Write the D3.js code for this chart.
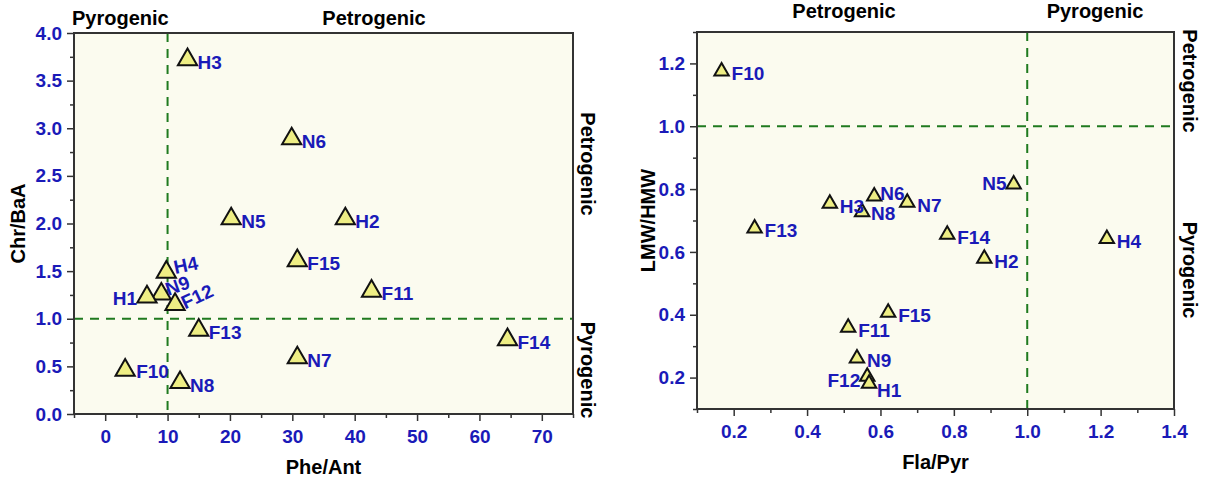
<!DOCTYPE html>
<html>
  <head>
    <meta charset="utf-8" />
    <style>
      body { margin: 0; background: #fff; }
      text { font-family: "Liberation Sans", Arial, sans-serif; font-weight: bold; }
    </style>
  </head>
  <body>

<svg id="chart"></svg>

<script src="https://d3js.org/d3.v7.min.js"></script>
<script>
// dimensions de la page
const WIDTH = 1208
const HEIGHT = 481

// panneau gauche : Phe/Ant vs Chr/BaA
const SAMPLES_A = ['H3', 'N6', 'N5', 'H2', 'F15', 'F11', 'F14', 'N7', 'H4', 'N9', 'H1', 'F12', 'F13', 'F10', 'N8']
const PHE_ANT = [13.2, 29.9, 20.2, 38.5, 30.8, 42.7, 64.5, 30.8, 9.8, 9.0, 6.7, 11.2, 15.0, 3.2, 12.0]
const CHR_BAA = [3.72, 2.89, 2.05, 2.05, 1.61, 1.29, 0.78, 0.59, 1.49, 1.26, 1.23, 1.15, 0.88, 0.46, 0.33]
const TICKS_A_X = [0, 10, 20, 30, 40, 50, 60, 70]
const TICKS_A_Y = [0, 0.5, 1, 1.5, 2, 2.5, 3, 3.5, 4]

// panneau droit : Fla/Pyr vs LMW/HMW
const SAMPLES_B = ['F10', 'F13', 'H3', 'N6', 'N8', 'N7', 'N5', 'F14', 'H4', 'H2', 'F15', 'F11', 'N9', 'F12', 'H1']
const FLA_PYR = [0.167, 0.257, 0.462, 0.583, 0.55, 0.673, 0.963, 0.782, 1.217, 0.883, 0.621, 0.512, 0.536, 0.564, 0.569]
const LMW_HMW = [1.175, 0.675, 0.754, 0.777, 0.727, 0.757, 0.815, 0.655, 0.642, 0.579, 0.407, 0.359, 0.261, 0.203, 0.181]
const TICKS_B_X = [0.2, 0.4, 0.6, 0.8, 1.0, 1.2, 1.4]
const TICKS_B_Y = [0.2, 0.4, 0.6, 0.8, 1.0, 1.2]

// couleurs
const BLUE = '#1a1ab8'
const GREEN = '#1f7a1f'
const FOND = '#fbfbef'
const JAUNE = '#eeee84'

// position des étiquettes (décalage, rotation) quand ce n'est pas celui par défaut
const LABELS_A = {
  H1: { dx: -10, dy: 8, anchor: 'end' },
  H4: { dx: 9, dy: 2, rot: -12 },
  N9: { dx: 7, dy: 2, rot: -20 },
  F12: { dx: 10, dy: 5, rot: -25 },
  F10: { dx: 11, dy: 8 }
}
const LABELS_B = {
  N5: { dx: -7, dy: 6, anchor: 'end' },
  F12: { dx: -7, dy: 10, anchor: 'end' },
  H1: { dx: 8, dy: 13 },
  N6: { dx: 6, dy: 4 },
  N8: { dx: 9, dy: 8 }
}

const svg = d3.select('#chart')
  .attr('width', WIDTH)
  .attr('height', HEIGHT)

function panneau (opt) {
  const { left, right, top, bottom } = opt
  const x = d3.scaleLinear().domain(opt.xDomain).range([left, right])
  const y = d3.scaleLinear().domain(opt.yDomain).range([bottom, top])
  const g = svg.append('g')

  // fond crème
  g.append('rect')
    .attr('x', left).attr('y', top)
    .attr('width', right - left).attr('height', bottom - top)
    .attr('fill', FOND)

  // lignes de seuil en pointillés
  g.append('line')
    .attr('x1', x(opt.xCut)).attr('x2', x(opt.xCut))
    .attr('y1', top).attr('y2', bottom)
    .attr('stroke', GREEN).attr('stroke-width', 2).attr('stroke-dasharray', '9,7')
  g.append('line')
    .attr('x1', left).attr('x2', right)
    .attr('y1', y(opt.yCut)).attr('y2', y(opt.yCut))
    .attr('stroke', GREEN).attr('stroke-width', 2).attr('stroke-dasharray', '9,7')

  // petits ticks
  g.append('g')
    .attr('transform', `translate(0,${bottom})`)
    .call(d3.axisBottom(x).tickValues(opt.xMinor).tickSize(4).tickFormat(''))
  g.append('g')
    .attr('transform', `translate(${left},0)`)
    .call(d3.axisLeft(y).tickValues(opt.yMinor).tickSize(4).tickFormat(''))

  // axes principaux
  const ax = g.append('g')
    .attr('transform', `translate(0,${bottom})`)
    .call(d3.axisBottom(x).tickValues(opt.xTicks).tickSize(7).tickPadding(9).tickFormat(opt.xFormat))
  const ay = g.append('g')
    .attr('transform', `translate(${left},0)`)
    .call(d3.axisLeft(y).tickValues(opt.yTicks).tickSize(7).tickPadding(5).tickFormat(d3.format('.1f')))
  g.selectAll('.domain').remove()
  g.selectAll('.tick line').attr('stroke', '#333').attr('stroke-width', 1.5)
  ;[ax, ay].forEach(a => a.selectAll('text')
    .attr('fill', BLUE).style('font-size', '19px').style('font-family', '"Liberation Sans", Arial, sans-serif'))

  // cadre
  g.append('rect')
    .attr('x', left).attr('y', top)
    .attr('width', right - left).attr('height', bottom - top)
    .attr('fill', 'none').attr('stroke', '#333').attr('stroke-width', 2)

  // titres des axes
  g.append('text')
    .attr('x', (left + right) / 2).attr('y', opt.xTitleY)
    .attr('text-anchor', 'middle').style('font-size', '20px')
    .text(opt.xTitle)
  g.append('text')
    .attr('transform', `translate(${opt.yTitleX},${(top + bottom) / 2}) rotate(-90)`)
    .attr('text-anchor', 'middle').style('font-size', '20px')
    .text(opt.yTitle)

  // étiquettes de zones
  opt.zones.forEach(z => {
    const t = g.append('text').style('font-size', '20px').text(z.text)
    if (z.rot) {
      t.attr('transform', `translate(${z.x},${z.y}) rotate(90)`).attr('text-anchor', 'middle')
    } else {
      t.attr('x', z.x).attr('y', z.y).attr('text-anchor', z.anchor || 'middle')
    }
  })

  // points
  const pts = opt.names.map((n, i) => ({ name: n, x: opt.xs[i], y: opt.ys[i] }))
  g.selectAll('path.pt')
    .data(pts)
    .enter()
      .append('path')
      .attr('class', 'pt')
      .attr('d', d3.symbol().type(d3.symbolTriangle).size(opt.symbolSize))
      .attr('transform', d => `translate(${x(d.x)},${y(d.y)})`)
      .attr('fill', JAUNE)
      .attr('stroke', '#111')
      .attr('stroke-width', 2)

  g.selectAll('text.lab')
    .data(pts)
    .enter()
      .append('text')
      .attr('class', 'lab')
      .attr('fill', BLUE)
      .style('font-size', '19px')
      .attr('text-anchor', d => (opt.labels[d.name] || {}).anchor || 'start')
      .attr('transform', d => {
        const l = opt.labels[d.name] || {}
        const dx = l.dx !== undefined ? l.dx : 10
        const dy = l.dy !== undefined ? l.dy : 9
        return `translate(${x(d.x) + dx},${y(d.y) + dy}) rotate(${l.rot || 0})`
      })
      .text(d => d.name)
}

panneau({
  left: 74, right: 573, top: 33, bottom: 414,
  xDomain: [-5, 75], yDomain: [0, 4],
  xTicks: TICKS_A_X, yTicks: TICKS_A_Y,
  xMinor: d3.range(-5, 76, 10), yMinor: d3.range(0.25, 4, 0.5),
  xFormat: d3.format('d'),
  xCut: 10, yCut: 1,
  xTitle: 'Phe/Ant', xTitleY: 474,
  yTitle: 'Chr/BaA', yTitleX: 25,
  names: SAMPLES_A, xs: PHE_ANT, ys: CHR_BAA,
  symbolSize: 160,
  labels: LABELS_A,
  zones: [
    { text: 'Pyrogenic', x: 72, y: 25, anchor: 'start' },
    { text: 'Petrogenic', x: 374, y: 25 },
    { text: 'Petrogenic', x: 581, y: 164, rot: true },
    { text: 'Pyrogenic', x: 581, y: 370, rot: true }
  ]
})

panneau({
  left: 697, right: 1174, top: 32, bottom: 409,
  xDomain: [0.1, 1.4], yDomain: [0.1, 1.3],
  xTicks: TICKS_B_X, yTicks: TICKS_B_Y,
  xMinor: d3.range(0.1, 1.35, 0.2), yMinor: d3.range(0.1, 1.35, 0.2),
  xFormat: d3.format('.1f'),
  xCut: 1, yCut: 1,
  xTitle: 'Fla/Pyr', xTitleY: 469,
  yTitle: 'LMW/HMW', yTitleX: 655,
  names: SAMPLES_B, xs: FLA_PYR, ys: LMW_HMW,
  symbolSize: 90,
  labels: LABELS_B,
  zones: [
    { text: 'Petrogenic', x: 844, y: 18 },
    { text: 'Pyrogenic', x: 1095, y: 18 },
    { text: 'Petrogenic', x: 1183, y: 81, rot: true },
    { text: 'Pyrogenic', x: 1183, y: 270, rot: true }
  ]
})
</script>
  </body>
</html>
